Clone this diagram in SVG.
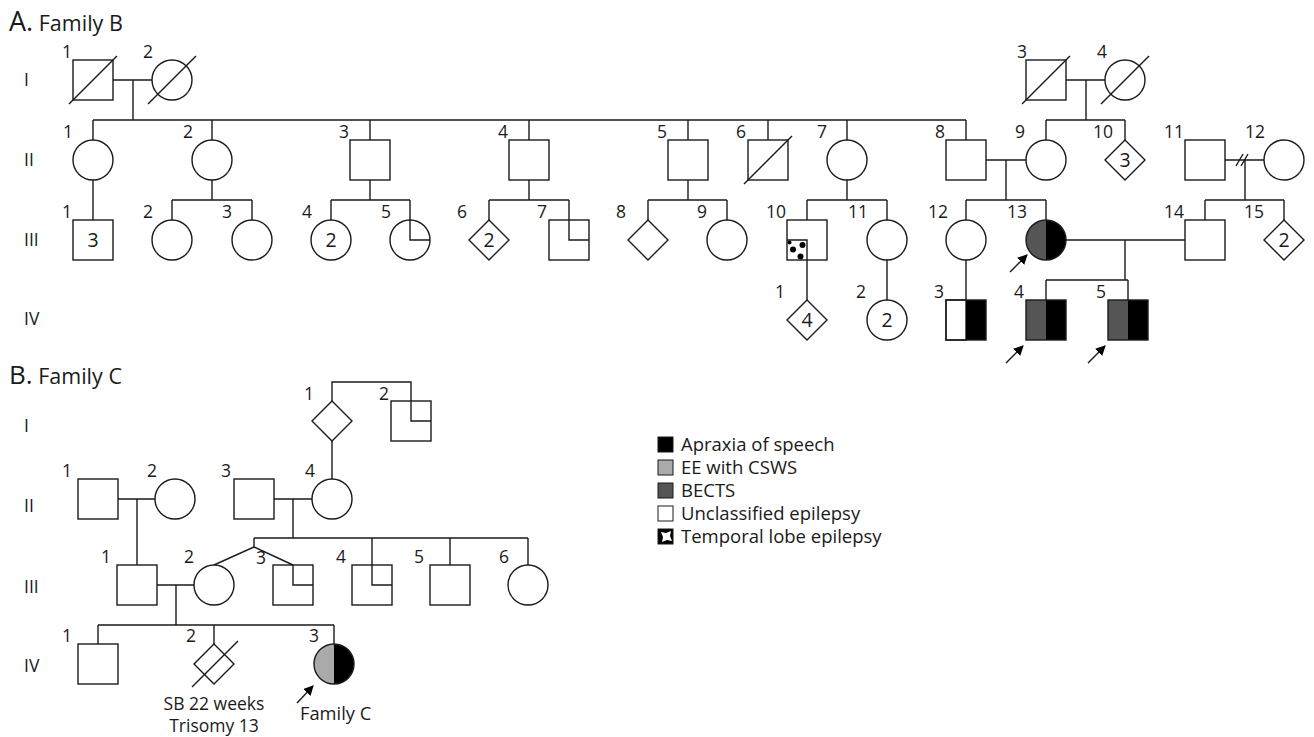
<svg xmlns="http://www.w3.org/2000/svg" width="1314" height="737" viewBox="0 0 1314 737">
  <style>
    .s { fill: #fff; stroke: #1a1a1a; stroke-width: 1.4; }
    .ln { fill: none; stroke: #1a1a1a; stroke-width: 1.4; }
    .t { font-family: "Open Sans", "Noto Sans", "DejaVu Sans", sans-serif; fill: #1a1a1a; }
    .lab { font-size: 17.5px; text-anchor: end; }
    .gen { font-size: 17.5px; }
    .in { font-size: 19.5px; text-anchor: middle; }
    .leg { font-size: 18.5px; }
    .note { font-size: 17.5px; }
    .blk { fill: #000; }
    .drk { fill: #555; }
    .lgt { fill: #aaa; }
  </style>
  <defs>
    <marker id="proband" viewBox="0 0 10 10" refX="9" refY="5" markerWidth="10" markerHeight="10" markerUnits="userSpaceOnUse" orient="auto">
      <path d="M0,0 L10,5 L0,10 Z" fill="#000"/>
    </marker>
  </defs>

  <!-- headings -->
  <text class="t" x="9" y="31"><tspan font-size="27">A.</tspan><tspan font-size="21.5"> Family B</tspan></text>
  <text class="t" x="9" y="384"><tspan font-size="26">B.</tspan><tspan font-size="21.5"> Family C</tspan></text>

  <!-- generation numerals, family B -->
  <g id="gen-B">
    <text class="t gen" x="24" y="86">I</text>
    <text class="t gen" x="24" y="166">II</text>
    <text class="t gen" x="24" y="246">III</text>
    <text class="t gen" x="24" y="325">IV</text>
  </g>
  <!-- generation numerals, family C -->
  <g id="gen-C">
    <text class="t gen" x="24" y="432">I</text>
    <text class="t gen" x="24" y="512">II</text>
    <text class="t gen" x="24" y="593">III</text>
    <text class="t gen" x="24" y="672">IV</text>
  </g>

  <!-- ===== connectors ===== -->
  <g id="connectors" class="ln">
    <!-- Family B, generation I -->
    <path d="M113,80 H152 M133,80 V120 M93,120 H966"/>
    <path d="M1066,80 H1105 M1086,80 V120 M1046,120 H1125"/>
    <!-- drops to generation II -->
    <path d="M93,120 V140 M212,120 V140 M370,120 V140 M529,120 V140 M688,120 V140 M768,120 V140 M847,120 V140 M966,120 V140"/>
    <path d="M1046,120 V140 M1125,120 V140"/>
    <!-- generation II unions -->
    <path d="M986,160 H1026 M1006,160 V200"/>
    <path d="M1225,160 H1264 M1245,160 V200"/>
    <path d="M1236,166 L1243,154 M1241,166 L1248,154"/>
    <!-- generation II to III -->
    <path d="M93,180 V220"/>
    <path d="M212,180 V200 M172,200 H252 M172,200 V220 M252,200 V220"/>
    <path d="M370,180 V200 M331,200 H410 M331,200 V220 M410,200 V220"/>
    <path d="M529,180 V200 M489,200 H569 M489,200 V220 M569,200 V220"/>
    <path d="M688,180 V200 M648,200 H727 M648,200 V220 M727,200 V220"/>
    <path d="M847,180 V200 M807,200 H887 M807,200 V220 M887,200 V220"/>
    <path d="M966,200 H1046 M966,200 V220 M1046,200 V220"/>
    <path d="M1205,200 H1284 M1205,200 V220 M1284,200 V220"/>
    <!-- generation III unions and drops -->
    <path d="M1066,240 H1185 M1125,240 V280 M1046,280 H1128 M1046,280 V300 M1128,280 V300"/>
    <path d="M807,260 V300 M887,260 V300 M966,260 V300"/>

    <!-- Family C, generation I -->
    <path d="M332,401 V382 H411 V401"/>
    <path d="M332,441 V479"/>
    <!-- generation II unions -->
    <path d="M118,499 H155 M137,499 V565"/>
    <path d="M274,499 H312 M293,499 V538 M254,538 H528"/>
    <path d="M254,538 V547 L214,565 M254,547 L293,565"/>
    <path d="M372,538 V565 M450,538 V565 M528,538 V565"/>
    <!-- generation III union -->
    <path d="M157,585 H194 M176,585 V625 M98,625 H334 M98,625 V644 M214,625 V644 M334,625 V644"/>
  </g>

  <!-- ===== Family B nodes ===== -->
  <g id="B-I-1"><rect class="s" x="73" y="60" width="40" height="40"/><path class="ln" d="M69,104 L117,56"/><text class="t lab" x="72" y="58">1</text></g>
  <g id="B-I-2"><circle class="s" cx="172" cy="80" r="20"/><path class="ln" d="M148,104 L196,56"/><text class="t lab" x="153" y="58">2</text></g>
  <g id="B-I-3"><rect class="s" x="1026" y="60" width="40" height="40"/><path class="ln" d="M1022,104 L1070,56"/><text class="t lab" x="1027" y="58">3</text></g>
  <g id="B-I-4"><circle class="s" cx="1125" cy="80" r="20"/><path class="ln" d="M1101,104 L1149,56"/><text class="t lab" x="1107" y="58">4</text></g>

  <g id="B-II-1"><circle class="s" cx="93" cy="160" r="20"/><text class="t lab" x="73" y="138">1</text></g>
  <g id="B-II-2"><circle class="s" cx="212" cy="160" r="20"/><text class="t lab" x="193" y="138">2</text></g>
  <g id="B-II-3"><rect class="s" x="350" y="140" width="40" height="40"/><text class="t lab" x="349" y="138">3</text></g>
  <g id="B-II-4"><rect class="s" x="509" y="140" width="40" height="40"/><text class="t lab" x="508" y="138">4</text></g>
  <g id="B-II-5"><rect class="s" x="668" y="140" width="40" height="40"/><text class="t lab" x="667" y="138">5</text></g>
  <g id="B-II-6"><rect class="s" x="748" y="140" width="40" height="40"/><path class="ln" d="M744,184 L792,136"/><text class="t lab" x="746" y="138">6</text></g>
  <g id="B-II-7"><circle class="s" cx="847" cy="160" r="20"/><text class="t lab" x="827" y="138">7</text></g>
  <g id="B-II-8"><rect class="s" x="946" y="140" width="40" height="40"/><text class="t lab" x="945" y="138">8</text></g>
  <g id="B-II-9"><circle class="s" cx="1046" cy="160" r="20"/><text class="t lab" x="1025" y="138">9</text></g>
  <g id="B-II-10"><path class="s" d="M1125,140 L1145,160 L1125,180 L1105,160 Z"/><text class="t in" x="1125" y="167">3</text><text class="t lab" x="1113" y="138">10</text></g>
  <g id="B-II-11"><rect class="s" x="1185" y="140" width="40" height="40"/><text class="t lab" x="1184" y="138">11</text></g>
  <g id="B-II-12"><circle class="s" cx="1284" cy="160" r="20"/><text class="t lab" x="1265" y="138">12</text></g>

  <g id="B-III-1"><rect class="s" x="73" y="220" width="40" height="40"/><text class="t in" x="93" y="247">3</text><text class="t lab" x="72" y="218">1</text></g>
  <g id="B-III-2"><circle class="s" cx="172" cy="240" r="20"/><text class="t lab" x="153" y="218">2</text></g>
  <g id="B-III-3"><circle class="s" cx="252" cy="240" r="20"/><text class="t lab" x="232" y="218">3</text></g>
  <g id="B-III-4"><circle class="s" cx="331" cy="240" r="20"/><text class="t in" x="331" y="247">2</text><text class="t lab" x="312" y="218">4</text></g>
  <g id="B-III-5"><circle class="s" cx="410" cy="240" r="20"/><path class="ln" d="M410,220 V240 H430"/><text class="t lab" x="391" y="218">5</text></g>
  <g id="B-III-6"><path class="s" d="M489,220 L509,240 L489,260 L469,240 Z"/><text class="t in" x="489" y="247">2</text><text class="t lab" x="467" y="218">6</text></g>
  <g id="B-III-7"><rect class="s" x="549" y="220" width="40" height="40"/><path class="ln" d="M569,220 V240 H589"/><text class="t lab" x="547" y="218">7</text></g>
  <g id="B-III-8"><path class="s" d="M648,220 L668,240 L648,260 L628,240 Z"/><text class="t lab" x="626" y="218">8</text></g>
  <g id="B-III-9"><circle class="s" cx="727" cy="240" r="20"/><text class="t lab" x="707" y="218">9</text></g>
  <g id="B-III-10">
    <rect class="s" x="787" y="220" width="40" height="40"/>
    <path class="ln" d="M787,240 H807 V260"/>
    <circle class="blk" cx="789.5" cy="242.5" r="2"/>
    <circle class="blk" cx="793" cy="249.5" r="3"/>
    <circle class="blk" cx="802.5" cy="245" r="3"/>
    <circle class="blk" cx="800.5" cy="256.5" r="3"/>
    <text class="t lab" x="786" y="218">10</text>
  </g>
  <g id="B-III-11"><circle class="s" cx="887" cy="240" r="20"/><text class="t lab" x="868" y="218">11</text></g>
  <g id="B-III-12"><circle class="s" cx="966" cy="240" r="20"/><text class="t lab" x="948" y="218">12</text></g>
  <g id="B-III-13">
    <path class="drk" d="M1046,220 A20,20 0 0 0 1046,260 Z"/>
    <path class="blk" d="M1046,220 A20,20 0 0 1 1046,260 Z"/>
    <circle class="ln" cx="1046" cy="240" r="20"/>
    <line class="ln" x1="1010" y1="272" x2="1027" y2="255" marker-end="url(#proband)"/>
    <text class="t lab" x="1027" y="218">13</text>
  </g>
  <g id="B-III-14"><rect class="s" x="1185" y="220" width="40" height="40"/><text class="t lab" x="1184" y="218">14</text></g>
  <g id="B-III-15"><path class="s" d="M1284,220 L1304,240 L1284,260 L1264,240 Z"/><text class="t in" x="1284" y="247">2</text><text class="t lab" x="1264" y="218">15</text></g>

  <g id="B-IV-1"><path class="s" d="M807,300 L827,320 L807,340 L787,320 Z"/><text class="t in" x="807" y="327">4</text><text class="t lab" x="785" y="298">1</text></g>
  <g id="B-IV-2"><circle class="s" cx="887" cy="320" r="20"/><text class="t in" x="887" y="327">2</text><text class="t lab" x="866" y="298">2</text></g>
  <g id="B-IV-3">
    <rect class="s" x="946" y="300" width="20" height="40"/>
    <rect class="blk" x="966" y="300" width="20" height="40"/>
    <rect class="ln" x="946" y="300" width="40" height="40"/>
    <text class="t lab" x="944" y="298">3</text>
  </g>
  <g id="B-IV-4">
    <rect class="drk" x="1026" y="300" width="20" height="40"/>
    <rect class="blk" x="1046" y="300" width="20" height="40"/>
    <rect class="ln" x="1026" y="300" width="40" height="40"/>
    <line class="ln" x1="1006" y1="363" x2="1023" y2="346" marker-end="url(#proband)"/>
    <text class="t lab" x="1024" y="298">4</text>
  </g>
  <g id="B-IV-5">
    <rect class="drk" x="1108" y="300" width="20" height="40"/>
    <rect class="blk" x="1128" y="300" width="20" height="40"/>
    <rect class="ln" x="1108" y="300" width="40" height="40"/>
    <line class="ln" x1="1088" y1="363" x2="1105" y2="346" marker-end="url(#proband)"/>
    <text class="t lab" x="1106" y="298">5</text>
  </g>

  <!-- ===== Family C nodes ===== -->
  <g id="C-I-1"><path class="s" d="M332,401 L352,421 L332,441 L312,421 Z"/><text class="t lab" x="314" y="400">1</text></g>
  <g id="C-I-2"><rect class="s" x="391" y="401" width="40" height="40"/><path class="ln" d="M411,401 V421 H431"/><text class="t lab" x="389" y="400">2</text></g>

  <g id="C-II-1"><rect class="s" x="78" y="479" width="40" height="40"/><text class="t lab" x="72" y="477">1</text></g>
  <g id="C-II-2"><circle class="s" cx="175" cy="499" r="20"/><text class="t lab" x="157" y="477">2</text></g>
  <g id="C-II-3"><rect class="s" x="234" y="479" width="40" height="40"/><text class="t lab" x="231" y="477">3</text></g>
  <g id="C-II-4"><circle class="s" cx="332" cy="499" r="20"/><text class="t lab" x="315" y="477">4</text></g>

  <g id="C-III-1"><rect class="s" x="117" y="565" width="40" height="40"/><text class="t lab" x="111" y="563">1</text></g>
  <g id="C-III-2"><circle class="s" cx="214" cy="585" r="20"/><text class="t lab" x="194" y="563">2</text></g>
  <g id="C-III-3"><rect class="s" x="273" y="565" width="40" height="40"/><path class="ln" d="M293,565 V585 H313"/><text class="t lab" x="266" y="564">3</text></g>
  <g id="C-III-4"><rect class="s" x="352" y="565" width="40" height="40"/><path class="ln" d="M372,565 V585 H392"/><text class="t lab" x="346" y="563">4</text></g>
  <g id="C-III-5"><rect class="s" x="430" y="565" width="40" height="40"/><text class="t lab" x="424" y="563">5</text></g>
  <g id="C-III-6"><circle class="s" cx="528" cy="585" r="20"/><text class="t lab" x="509" y="563">6</text></g>

  <g id="C-IV-1"><rect class="s" x="78" y="644" width="40" height="40"/><text class="t lab" x="72" y="642">1</text></g>
  <g id="C-IV-2">
    <path class="s" d="M214,644 L234,664 L214,684 L194,664 Z"/>
    <path class="ln" d="M192,687 L238,641"/>
    <text class="t lab" x="196" y="642">2</text>
    <text class="t note" text-anchor="middle" x="214" y="710">SB 22 weeks</text>
    <text class="t note" text-anchor="middle" x="214" y="732">Trisomy 13</text>
  </g>
  <g id="C-IV-3">
    <path class="lgt" d="M334,644 A20,20 0 0 0 334,684 Z"/>
    <path class="blk" d="M334,644 A20,20 0 0 1 334,684 Z"/>
    <circle class="ln" cx="334" cy="664" r="20"/>
    <line class="ln" x1="297" y1="703" x2="313" y2="686" marker-end="url(#proband)"/>
    <text class="t lab" x="319" y="642">3</text>
    <text class="t" font-size="18.3" x="300" y="720">Family C</text>
  </g>

  <!-- ===== legend ===== -->
  <g id="legend">
    <rect x="658" y="437" width="15" height="15" fill="#000" stroke="#1a1a1a" stroke-width="1"/>
    <text class="t leg" x="681" y="451">Apraxia of speech</text>
    <rect x="658" y="460" width="15" height="15" fill="#aaa" stroke="#1a1a1a" stroke-width="1"/>
    <text class="t leg" x="681" y="474">EE with CSWS</text>
    <rect x="658" y="483" width="15" height="15" fill="#555" stroke="#1a1a1a" stroke-width="1"/>
    <text class="t leg" x="681" y="497">BECTS</text>
    <rect x="658" y="506" width="15" height="15" fill="#fff" stroke="#1a1a1a" stroke-width="1"/>
    <text class="t leg" x="681" y="520">Unclassified epilepsy</text>
    <rect x="658" y="529" width="15" height="15" fill="#000" stroke="#1a1a1a" stroke-width="1"/>
    <path d="M661,532 L666,533 L671,531 L670,536 L672,541 L667,540 L662,542 L663,537 Z" fill="#fff"/>
    <text class="t leg" x="681" y="543">Temporal lobe epilepsy</text>
  </g>
</svg>
